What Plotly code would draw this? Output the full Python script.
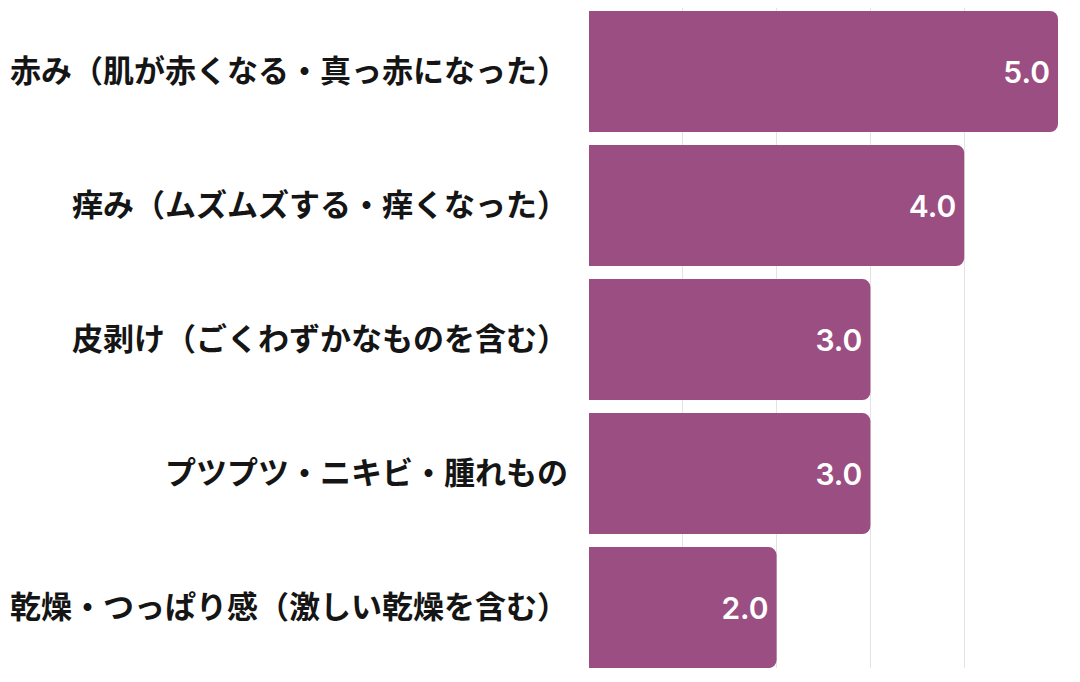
import plotly.graph_objects as go

categories = [
    "赤み（肌が赤くなる・真っ赤になった）",
    "痒み（ムズムズする・痒くなった）",
    "皮剥け（ごくわずかなものを含む）",
    "プツプツ・ニキビ・腫れもの",
    "乾燥・つっぱり感（激しい乾燥を含む）",
]
values = [5.0, 4.0, 3.0, 3.0, 2.0]
value_labels = [f"{v:.1f}" for v in values]

fig = go.Figure(go.Bar(
    x=values,
    y=categories,
    orientation="h",
    marker=dict(color="#9a4e82", cornerradius=8, line=dict(width=0)),
    text=value_labels,
    textposition="inside",
    insidetextanchor="end",
    textfont=dict(family="Inter", size=30, color="white", weight=600),
    textangle=0,
    hoverinfo="skip",
))

fig.update_layout(
    width=1080, height=682,
    margin=dict(l=581, r=30, t=0, b=22),
    paper_bgcolor="white",
    plot_bgcolor="white",
    bargap=0.097,
    showlegend=False,
)
fig.update_xaxes(
    range=[0, 5], showticklabels=False, showgrid=True,
    gridcolor="#e3e3e3", gridwidth=1, zeroline=False, dtick=1,
    showline=False, ticks="",
)
fig.update_yaxes(
    range=[4.451, -0.474], showgrid=False, zeroline=False,
    tickfont=dict(family="Noto Sans CJK JP", size=31, color="#151515", weight="bold"),
    ticks="", ticklabelstandoff=20,
)

fig.write_html("out.html")
